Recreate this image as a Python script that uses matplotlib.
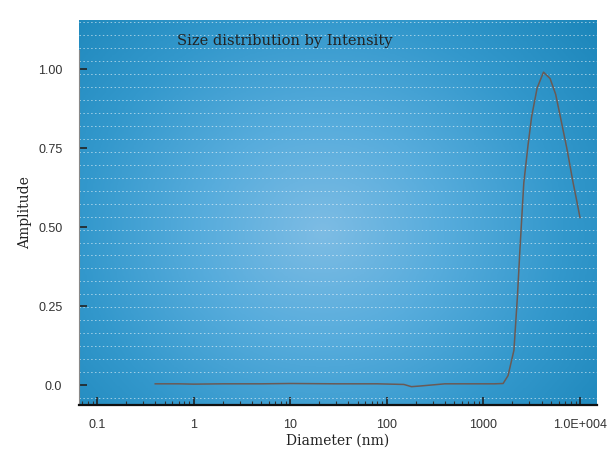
import numpy as np
import matplotlib
matplotlib.use("Agg")
import matplotlib.pyplot as plt
from matplotlib.colors import LinearSegmentedColormap
from matplotlib.ticker import MultipleLocator, LogLocator, NullFormatter

# Werte (Durchmesser in nm, Amplitude)
diameter = [0.4, 0.7, 1.0, 2.0, 5.0, 10, 30, 80, 150, 180, 220, 400, 800, 1300, 1600,
            1800, 2070, 2250, 2390, 2620, 2900, 3160, 3600, 4190, 4900, 5600, 6250,
            7300, 8490, 9300, 10000]
amplitude = [0.004, 0.004, 0.003, 0.004, 0.004, 0.005, 0.004, 0.004, 0.002, -0.005,
             -0.003, 0.004, 0.004, 0.004, 0.005, 0.03, 0.11, 0.28, 0.43, 0.64, 0.76,
             0.85, 0.94, 0.99, 0.97, 0.92, 0.85, 0.75, 0.64, 0.58, 0.53]

xticks = [0.1, 1, 10, 100, 1000, 10000]
xticklabels = ["0.1", "1", "10", "100", "1000", "1.0E+004"]
yticks = [0.0, 0.25, 0.50, 0.75, 1.00]
yticklabels = ["0.0", "0.25", "0.50", "0.75", "1.00"]

fig = plt.figure(figsize=(6.14, 4.55), dpi=100)
ax = fig.add_axes([0.1287, 0.1099, 0.8436, 0.8461])

# radialer Farbverlauf als Hintergrund
ny, nx = 200, 300
gx, gy = np.meshgrid(np.linspace(0, 1, nx), np.linspace(0, 1, ny))
r = np.sqrt(((gx - 0.47) / 0.75) ** 2 + ((gy - 0.55) / 0.9) ** 2)
r = np.clip(r, 0, 1)
cmap = LinearSegmentedColormap.from_list("bg", ["#7dbce4", "#57acdc", "#3398cc", "#1c86ba"])
ax.imshow(r, cmap=cmap, extent=[0, 1, 0, 1], transform=ax.transAxes,
          aspect="auto", zorder=0, origin="upper")

ax.set_xscale("log")
ax.set_xlim(0.065, 15000)
ax.set_ylim(-0.063, 1.155)

ax.plot(diameter, amplitude, color="#6a5a55", lw=1.1, zorder=3)

ax.yaxis.set_minor_locator(MultipleLocator(0.041))
ax.grid(which="minor", axis="y", color="white", ls=(0, (1.5, 2.5)), lw=0.7, alpha=0.55, zorder=1)

ax.set_xticks(xticks)
ax.set_xticklabels(xticklabels, family="Liberation Sans")
ax.xaxis.set_minor_locator(LogLocator(base=10, subs=np.arange(2, 10)))
ax.xaxis.set_minor_formatter(NullFormatter())
ax.set_yticks(yticks)
ax.set_yticklabels(yticklabels, family="Liberation Sans")
ax.yaxis.set_minor_formatter(NullFormatter())

ax.tick_params(axis="both", which="major", direction="in", length=6, width=1.2,
               colors="#222222", labelsize=9, labelcolor="#333333")
ax.tick_params(axis="x", which="minor", direction="in", length=3, width=0.8, color="#333333")
ax.tick_params(axis="y", which="minor", length=0)
ax.tick_params(axis="x", pad=10)
ax.tick_params(axis="y", pad=12)

for s in ["top", "right"]:
    ax.spines[s].set_visible(False)
ax.spines["bottom"].set_color("#111111")
ax.spines["bottom"].set_linewidth(1.6)
ax.spines["left"].set_color("#888888")
ax.spines["left"].set_bounds(-0.063, 1.06)

ax.text(0.19, 0.935, "Size distribution by Intensity", transform=ax.transAxes,
        family="DejaVu Serif", fontsize=10.5, color="#222222")
ax.set_ylabel("Amplitude", family="DejaVu Serif", fontsize=10, color="#222222", labelpad=4)
ax.set_xlabel("Diameter (nm)", family="DejaVu Serif", fontsize=10, color="#222222", labelpad=2)

fig.savefig("out.png", dpi=100)
